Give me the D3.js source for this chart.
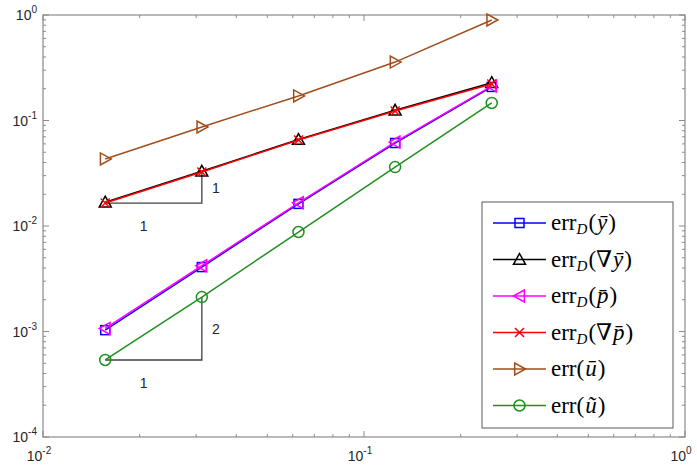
<!DOCTYPE html>
<html>
<head>
<meta charset="utf-8"/>
<title>Convergence</title>
<script src="https://d3js.org/d3.v7.min.js"></script>
<style>
  body { margin: 0; background: #fff; }
  svg text { font-family: "Liberation Sans", Arial, sans-serif; }
</style>
</head>
<body>
<svg width="697" height="465"></svg>
<script>
// mesh sizes h
var hValues = [1/64, 1/32, 1/16, 1/8, 1/4];

var errY     = [0.00103, 0.00408, 0.0162, 0.0612, 0.208];
var errGradY = [0.0168, 0.0330, 0.0660, 0.125, 0.228];
var errP     = [0.00107, 0.00420, 0.0166, 0.0625, 0.212];
var errGradP = [0.0165, 0.0325, 0.0653, 0.123, 0.222];
var errU     = [0.0432, 0.0868, 0.171, 0.358, 0.897];
var errUt    = [0.000537, 0.00212, 0.00877, 0.0362, 0.1466];

var xTicks = [0.01, 0.1, 1];
var xTickExp = ["-2", "-1", "0"];
var yTicks = [1e-4, 1e-3, 1e-2, 1e-1, 1];
var yTickExp = ["-4", "-3", "-2", "-1", "0"];

// slope triangles: [x0, x1, y0, y1, labelRun, labelRise]
var slopeTris = [
  [1/64, 1/32, 0.0165, 0.0325, "1", "1"],
  [1/64, 1/32, 0.000537, 0.00212, "1", "2"]
];

var series = [
  {vals: errY,     color: "#0000ff", marker: "square",   sub: true,  arg: ["", "ȳ"]},
  {vals: errGradY, color: "#000000", marker: "up",       sub: true,  arg: ["∇", "ȳ"]},
  {vals: errP,     color: "#ff00ff", marker: "left",     sub: true,  arg: ["", "p\u0304"]},
  {vals: errGradP, color: "#ff0000", marker: "x",        sub: true,  arg: ["∇", "p\u0304"]},
  {vals: errU,     color: "#a24d1c", marker: "right",    sub: false, arg: ["", "ū"]},
  {vals: errUt,    color: "#1f8f1f", marker: "circle",   sub: false, arg: ["", "ũ"]}
];

var svg = d3.select("svg");
var L = 43, R = 685, T = 15, B = 437;

var x = d3.scaleLog().domain([0.01, 1]).range([L, R]);
var y = d3.scaleLog().domain([1e-4, 1]).range([B, T]);

var axisColor = "#8a8a8a";
var textColor = "#262626";

// minor ticks
function minorTicks(lo, hi) {
  var out = [];
  for (var e = lo; e < hi; e++) {
    for (var k = 2; k <= 9; k++) out.push(k * Math.pow(10, e));
  }
  return out;
}
var g = svg.append("g");
var xMinor = minorTicks(-2, 0), yMinor = minorTicks(-4, 0);

xMinor.forEach(function(v) {
  g.append("line").attr("x1", x(v)).attr("x2", x(v)).attr("y1", B).attr("y2", B - 3).attr("stroke", axisColor);
  g.append("line").attr("x1", x(v)).attr("x2", x(v)).attr("y1", T).attr("y2", T + 3).attr("stroke", axisColor);
});
yMinor.forEach(function(v) {
  g.append("line").attr("x1", L).attr("x2", L + 3).attr("y1", y(v)).attr("y2", y(v)).attr("stroke", axisColor);
  g.append("line").attr("x1", R).attr("x2", R - 3).attr("y1", y(v)).attr("y2", y(v)).attr("stroke", axisColor);
});
xTicks.forEach(function(v) {
  g.append("line").attr("x1", x(v)).attr("x2", x(v)).attr("y1", B).attr("y2", B - 6).attr("stroke", axisColor);
  g.append("line").attr("x1", x(v)).attr("x2", x(v)).attr("y1", T).attr("y2", T + 6).attr("stroke", axisColor);
});
yTicks.forEach(function(v) {
  g.append("line").attr("x1", L).attr("x2", L + 6).attr("y1", y(v)).attr("y2", y(v)).attr("stroke", axisColor);
  g.append("line").attr("x1", R).attr("x2", R - 6).attr("y1", y(v)).attr("y2", y(v)).attr("stroke", axisColor);
});

g.append("rect").attr("x", L).attr("y", T).attr("width", R - L).attr("height", B - T)
  .attr("fill", "none").attr("stroke", axisColor).attr("stroke-width", 1.2);

// tick labels
xTicks.forEach(function(v, i) {
  var t = svg.append("text").attr("x", x(v) - 4).attr("y", B + 24).attr("text-anchor", "middle")
    .attr("fill", textColor).style("font-size", "14px");
  t.append("tspan").text("10");
  t.append("tspan").attr("dy", -7).style("font-size", "10px").text(xTickExp[i]);
});
yTicks.forEach(function(v, i) {
  var t = svg.append("text").attr("x", 37).attr("y", y(v) + 5).attr("text-anchor", "end")
    .attr("fill", textColor).style("font-size", "14px");
  t.append("tspan").text("10");
  t.append("tspan").attr("dy", -7).style("font-size", "10px").text(yTickExp[i]);
});

// slope triangles
slopeTris.forEach(function(s) {
  var pts = [[x(s[0]), y(s[2])], [x(s[1]), y(s[2])], [x(s[1]), y(s[3])]];
  svg.append("path").attr("d", d3.line()(pts)).attr("fill", "none")
    .attr("stroke", "#404040").attr("stroke-width", 1.3);
  svg.append("text").attr("x", (x(s[0]) + x(s[1])) / 2 - 10).attr("y", y(s[2]) + 28)
    .attr("text-anchor", "middle").attr("fill", textColor).style("font-size", "14px").text(s[4]);
  svg.append("text").attr("x", x(s[1]) + 14).attr("y", y(Math.sqrt(s[2] * s[3])) + 5)
    .attr("text-anchor", "middle").attr("fill", textColor).style("font-size", "14px").text(s[5]);
});

function drawMarker(sel, type, cx, cy, color) {
  var m;
  if (type === "square") {
    m = sel.append("rect").attr("x", cx - 4.5).attr("y", cy - 4.5).attr("width", 9).attr("height", 9);
  } else if (type === "circle") {
    m = sel.append("circle").attr("cx", cx).attr("cy", cy).attr("r", 5.5);
  } else if (type === "x") {
    m = sel.append("path").attr("d", "M" + (cx - 4.5) + "," + (cy - 4.5) + "L" + (cx + 4.5) + "," + (cy + 4.5) +
      "M" + (cx - 4.5) + "," + (cy + 4.5) + "L" + (cx + 4.5) + "," + (cy - 4.5));
  } else {
    var s = 6, p;
    if (type === "up") p = [[cx, cy - s], [cx + s, cy + s * 0.8], [cx - s, cy + s * 0.8]];
    if (type === "left") p = [[cx - s, cy], [cx + s * 0.8, cy - s], [cx + s * 0.8, cy + s]];
    if (type === "right") p = [[cx + s, cy], [cx - s * 0.8, cy - s], [cx - s * 0.8, cy + s]];
    m = sel.append("path").attr("d", d3.line()(p) + "Z");
  }
  m.attr("fill", "none").attr("stroke", color).attr("stroke-width", 1.5);
}

var line = d3.line().x(function(d) { return x(d[0]); }).y(function(d) { return y(d[1]); });

series.forEach(function(s) {
  var data = hValues.map(function(h, i) { return [h, s.vals[i]]; });
  svg.append("path").attr("d", line(data)).attr("fill", "none")
    .attr("stroke", s.color).attr("stroke-width", 1.5);
  data.forEach(function(d) {
    drawMarker(svg, s.marker, x(d[0]), y(d[1]), s.color);
  });
});

// legend
var lg = svg.append("g");
lg.append("rect").attr("x", 482).attr("y", 202).attr("width", 191).attr("height", 226)
  .attr("fill", "#fff").attr("stroke", "#5a5a5a").attr("stroke-width", 1);
series.forEach(function(s, i) {
  var yy = 223 + i * 36.5;
  lg.append("line").attr("x1", 493).attr("x2", 546).attr("y1", yy).attr("y2", yy)
    .attr("stroke", s.color).attr("stroke-width", 1.5);
  drawMarker(lg, s.marker, 519.5, yy, s.color);
  var t = lg.append("text").attr("x", 551).attr("y", yy + 7).attr("fill", "#000")
    .style("font-family", "'Liberation Serif', 'DejaVu Serif', serif").style("font-size", "23px");
  t.append("tspan").text("err");
  if (s.sub) {
    t.append("tspan").attr("dy", 4).style("font-size", "15px").style("font-style", "italic").text("D");
    t.append("tspan").attr("dy", -4).attr("dx", 1).text("(");
  } else {
    t.append("tspan").text("(");
  }
  if (s.arg[0]) t.append("tspan").text(s.arg[0]);
  t.append("tspan").attr("dx", 1).style("font-style", "italic").text(s.arg[1]);
  t.append("tspan").attr("dx", 1).text(")");
});
</script>
</body>
</html>
